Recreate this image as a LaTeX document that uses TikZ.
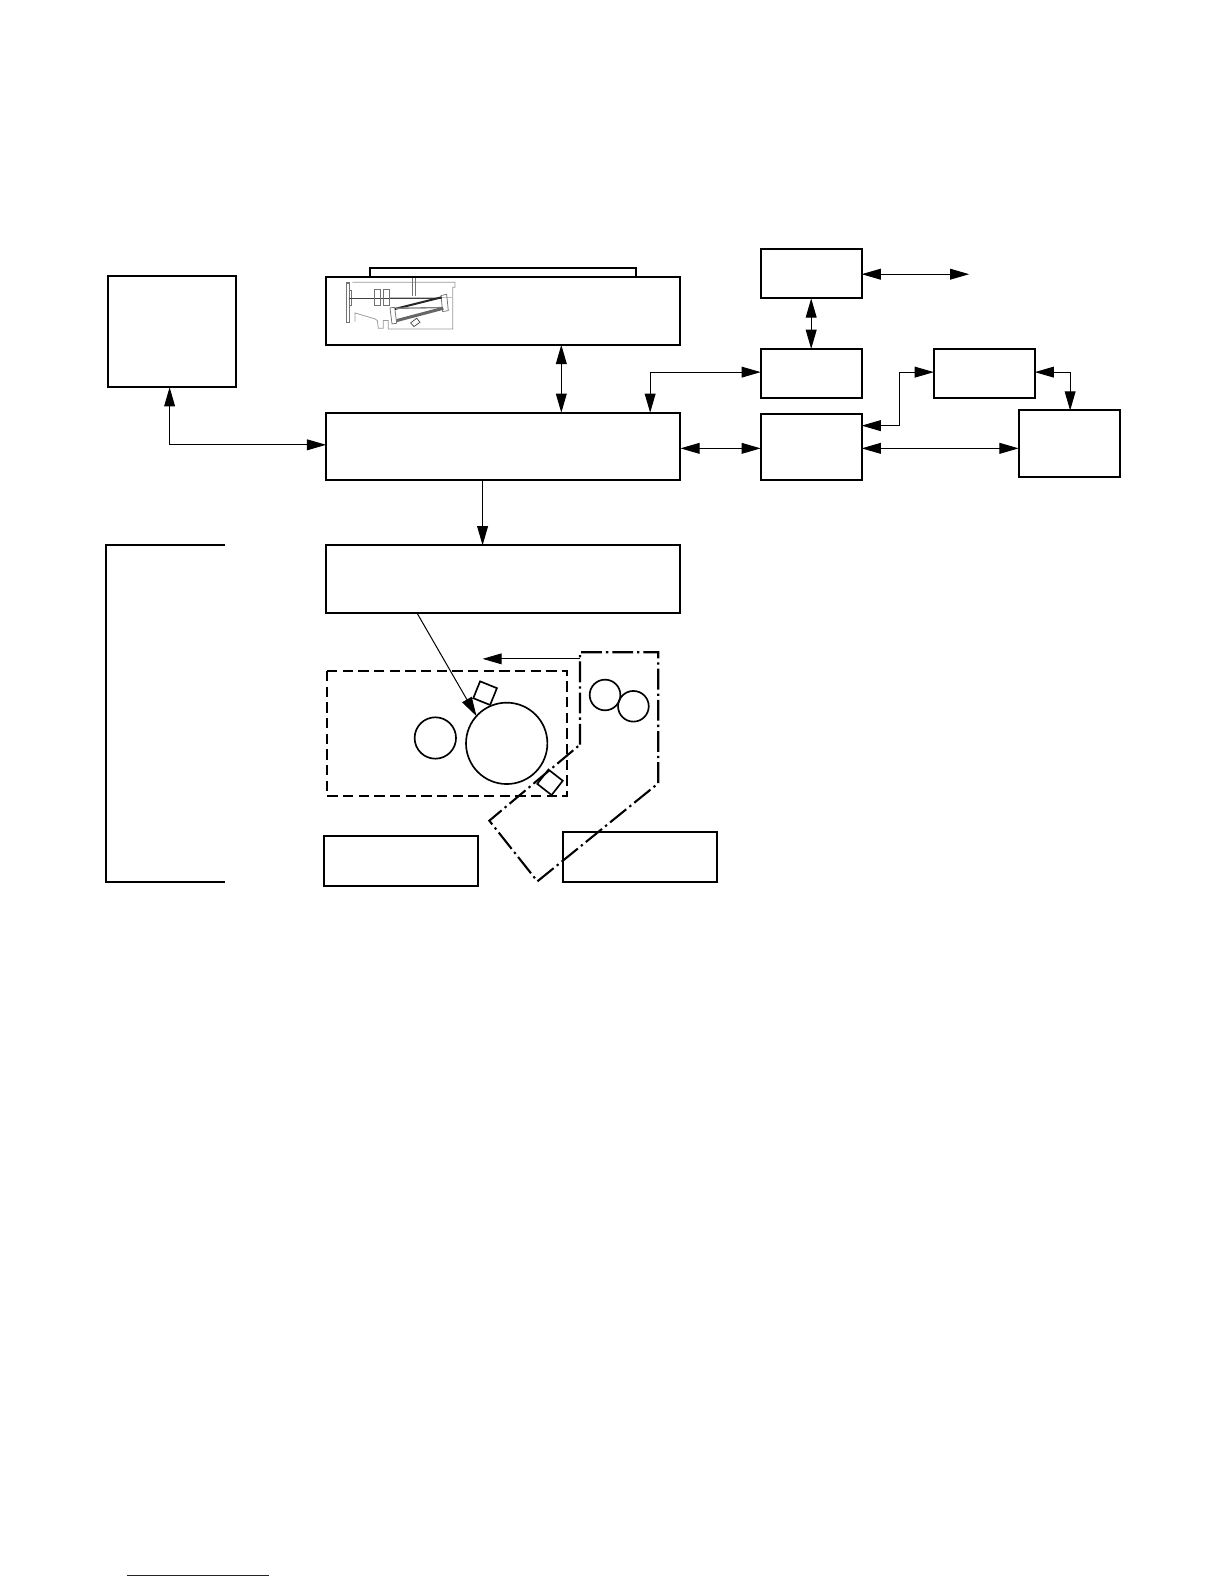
\documentclass[tikz,border=0pt]{standalone}
\usepackage{xcolor}
\usetikzlibrary{arrows.meta}
\definecolor{linkblue}{RGB}{20,20,160}
\tikzset{
  blockbox/.style={draw,rectangle,line width=1.2bp,inner sep=0pt,outer sep=0pt},
  boxsize/.style 2 args={minimum width=#1*0.6057bp,minimum height=#2*0.6057bp},
  roundpart/.style={draw,circle,line width=1bp,inner sep=0pt,outer sep=0pt},
  sizepart/.style={minimum size=#1*0.6057bp},
  onelink/.style={line width=0.6bp,-{Triangle[length=11.5bp,width=6.5bp]}},
  twolink/.style={line width=0.6bp,{Triangle[length=11.5bp,width=6.5bp]}-{Triangle[length=11.5bp,width=6.5bp]}},
  optic/.style={line width=0.45bp,black!55},
}
\begin{document}
\begin{tikzpicture}[x=0.6057bp,y=-0.6057bp]
 \useasboundingbox[fill=white] (0,-0.6) rectangle (1212.5,1568.4);
 % blocks
 \node[blockbox,boxsize={127}{110}] (lamp) at (170.5,328) {};
 \node[blockbox,boxsize={264}{9}] (platen) at (498,269.5) {};
 \node[blockbox,boxsize={351}{67}] (scanner) at (498.5,307.5) {};
 \node[blockbox,boxsize={351}{67}] (main) at (498.5,441.7) {};
 \node[blockbox,boxsize={351}{67}] (laser) at (498.5,573) {};
 \node[blockbox,boxsize={100}{49}] (upper) at (803.5,270.5) {};
 \node[blockbox,boxsize={100}{49}] (middle) at (803.5,369.5) {};
 \node[blockbox,boxsize={100}{65.5}] (lower) at (803.5,442.3) {};
 \node[blockbox,boxsize={100}{49}] (side) at (975,369.5) {};
 \node[blockbox,boxsize={100}{66}] (far) at (1059,439) {};
 \node[blockbox,boxsize={152}{50}] (tray) at (397,852) {};
 \node[blockbox,boxsize={153}{49}] (exit) at (634,848.5) {};

 % process parts
 \node[roundpart,sizepart=80.6] (drum) at (501.9,735.7) {};
 \node[roundpart,sizepart=41] (charge) at (431.2,730.4) {};
 \node[roundpart,sizepart=30.4] (rollera) at (599.3,687.8) {};
 \node[roundpart,sizepart=30.4] (rollerb) at (627.4,699) {};
 \node[blockbox,line width=1bp,sizepart=18,rotate=-22] (padtop) at (480.5,686) {};
 \node[blockbox,line width=1bp,sizepart=18,rotate=-38] (padlow) at (544.8,774.3) {};

 \draw[line width=1.25bp,dash pattern=on 6.2bp off 3.2bp] (324,664) rectangle (562,788);
 \draw[line width=1.25bp,dash pattern=on 12.5bp off 2.4bp on 1.4bp off 2.4bp]
   (574.5,737) -- (574.5,645.5) -- (652,645.5) -- (652,775.3) -- (532.3,872.4) -- (484.7,812.3) -- cycle;

 % open bracket at left
 \coordinate (brtop) at (222.5,539.5);
 \coordinate (brlow) at (222.5,873);
 \draw[line width=1.2bp] (brtop) -- (105,539.5) -- (105,873) -- (brlow);

 % connectors
 \coordinate (xlamp) at (168,0);
 \coordinate (ylamp) at (0,440);
 \draw[twolink] (xlamp |- lamp.south) -- (xlamp |- ylamp) -- (main.west |- ylamp);
 \coordinate (xscan) at (556,0);
 \draw[twolink] (xscan |- scanner.south) -- (xscan |- main.north);
 \coordinate (xlaser) at (478,0);
 \draw[onelink] (xlaser |- main.south) -- (xlaser |- laser.north);
 \coordinate (xbeam) at (413,0);
 \draw[onelink] (xbeam |- laser.south) -- (drum.138);
 \coordinate (devout) at (478,652);
 \coordinate (devin) at (574.5,652);
 \draw[onelink] (devin) -- (devout);
 \coordinate (ext) at (960,271);
 \draw[twolink] (upper.east |- ext) -- (ext);
 \draw[twolink] (upper.south) -- (middle.north);
 \coordinate (xmid) at (644,0);
 \coordinate (ymid) at (0,368);
 \draw[twolink] (xmid |- main.north) -- (xmid |- ymid) -- (middle.west |- ymid);
 \coordinate (ylink) at (0,443.5);
 \draw[twolink] (main.east |- ylink) -- (lower.west |- ylink);
 \draw[twolink] (lower.east |- ylink) -- (far.west |- ylink);
 \coordinate (ybend) at (0,421);
 \coordinate (xbend) at (891,0);
 \draw[twolink] (lower.east |- ybend) -- (xbend |- ybend) -- (xbend |- ymid) -- (side.west |- ymid);
 \coordinate (xfar) at (1060,0);
 \draw[twolink] (side.east |- ymid) -- (xfar |- ymid) -- (xfar |- far.north);

 % optics inside the scanner
 \begin{scope}[shift={(317,252.6)},scale=0.33]
  \draw[optic,black!40] (97,80) -- (405,80) -- (405,95) -- (398,95) -- (398,220) -- (205,220)
    -- (205,195) -- (190,195) -- (190,218) -- (175,218) -- (172,195) -- (165,190) -- (105,172) -- (105,198);
  \draw[optic,black!25] (208,125) -- (398,125);
  \draw[optic,line width=0.9bp] (80,82) rectangle (88,200);
  \draw[optic] (88,105) rectangle (95,150);
  \draw[optic,black!75] (88,127) -- (365,127);
  \draw[optic] (162,100) rectangle (181,150);
  \draw[optic] (189,100) rectangle (208,150);
  \draw[optic] (278,68) -- (278,122);
  \draw[optic] (285,68) -- (285,122);
  \draw[optic] (363,120) -- (380,116) -- (385,165) -- (368,168) -- cycle;
  \draw[optic] (210,157) -- (224,155) -- (230,203) -- (216,205) -- cycle;
  \draw[black!85,line width=1.2bp] (225,160) -- (365,125);
  \draw[black!50,line width=0.8bp] (228,158) -- (368,156);
  \draw[black!60,line width=1.8bp] (230,195) -- (370,158);
  \draw[optic,black!70] (272,202) -- (290,188) -- (300,200) -- (282,213) -- cycle;
 \end{scope}

 % rule at foot of page
 \coordinate (rulea) at (126,1560);
 \coordinate (ruleb) at (266.5,1560);
 \draw[linkblue,line width=0.7bp] (rulea) -- (ruleb);
\end{tikzpicture}
\end{document}
